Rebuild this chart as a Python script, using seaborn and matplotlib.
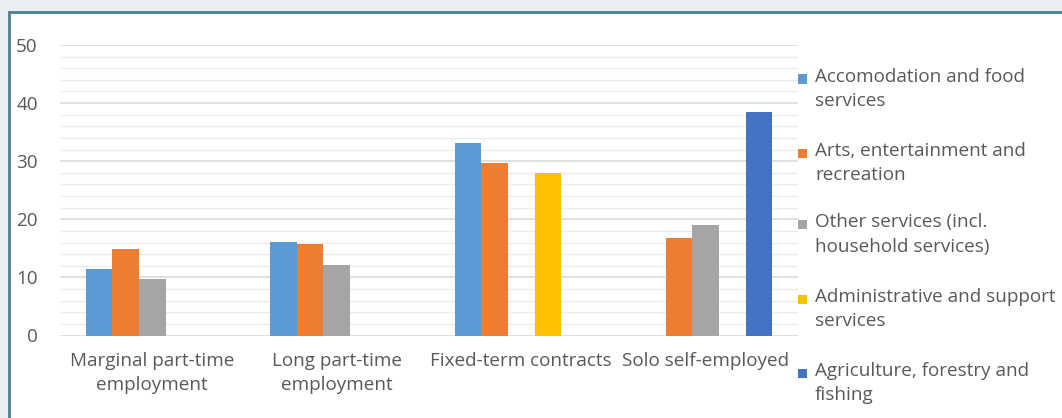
import matplotlib
matplotlib.use("Agg")
import matplotlib.pyplot as plt
from matplotlib.patches import Rectangle
from matplotlib.ticker import MultipleLocator
import seaborn as sns
import pandas as pd
import numpy as np

categories = ["Marginal part-time\nemployment", "Long part-time\nemployment",
              "Fixed-term contracts", "Solo self-employed"]
series = ["Accomodation and food services", "Arts, entertainment and recreation",
          "Other services (incl. household services)", "Administrative and support services",
          "Agriculture, forestry and fishing"]
legend_labels = ["Accomodation and food\nservices", "Arts, entertainment and\nrecreation",
                 "Other services (incl.\nhousehold services)", "Administrative and support\nservices",
                 "Agriculture, forestry and\nfishing"]
accomodation = [11.4, 16.1, 33.2, np.nan]
arts = [14.9, 15.7, 29.7, 16.7]
other = [9.7, 12.1, np.nan, 19.1]
administrative = [np.nan, np.nan, 27.9, np.nan]
agriculture = [np.nan, np.nan, np.nan, 38.5]
colors = ["#5b9bd5", "#ed7d31", "#a5a5a5", "#ffc000", "#4472c4"]

values = [accomodation, arts, other, administrative, agriculture]
rows = []
for s, vals in zip(series, values):
    for c, v in zip(categories, vals):
        if not np.isnan(v):
            rows.append({"category": c, "series": s, "value": v})
df = pd.DataFrame(rows)

sns.set_theme(style="white")
plt.rcParams['font.family'] = ['Open Sans', 'DejaVu Sans']
text_color = "#595959"
fs = 13.6

W, H = 1062, 418
fig = plt.figure(figsize=(W / 100, H / 100), dpi=100)
fig.patch.set_facecolor("#e9eef2")
# white panel with teal border
fig.patches.append(Rectangle((9 / W, -0.05), 1.05, 1.05 - 12 / H, transform=fig.transFigure,
                             facecolor="white", edgecolor="#4f7f8c", linewidth=2, zorder=-5))

ax = fig.add_axes([60 / W, 1 - 335.5 / H, 738 / W, (335.5 - 45) / H])
ax.set_facecolor("none")
sns.barplot(data=df, x="category", y="value", hue="series", order=categories,
            hue_order=series, palette=colors, width=0.72, linewidth=0,
            saturation=1, ax=ax, legend=False)
ax.set_ylim(0, 50)
ax.set_xlim(-0.5, 3.5)
ax.yaxis.set_major_locator(MultipleLocator(10))
ax.yaxis.set_minor_locator(MultipleLocator(2))
ax.grid(axis="y", which="major", color="#d9d9d9", linewidth=1.2)
ax.grid(axis="y", which="minor", color="#ebebeb", linewidth=1.0)
ax.set_axisbelow(True)
for sp in ax.spines.values():
    sp.set_visible(False)
ax.set_xlabel("")
ax.set_ylabel("")
ax.tick_params(axis="both", which="both", length=0, colors=text_color, labelsize=fs)
ax.tick_params(axis="y", pad=16)
ax.tick_params(axis="x", pad=12)
for lbl in ax.get_xticklabels():
    lbl.set_linespacing(1.4)

# legend drawn manually
y_centers = [79, 153, 225, 299, 373]
for lab, col, yc in zip(legend_labels, colors, y_centers):
    fig.patches.append(Rectangle((797.5 / W, 1 - (yc + 4.5) / H), 9 / W, 9 / H,
                                 transform=fig.transFigure, facecolor=col, edgecolor="none"))
    fig.text(815 / W, 1 - (yc - 11.5) / H, lab, fontsize=fs, color=text_color,
             va="top", ha="left", linespacing=1.45)

fig.savefig("out.png", dpi=100, facecolor=fig.get_facecolor())
